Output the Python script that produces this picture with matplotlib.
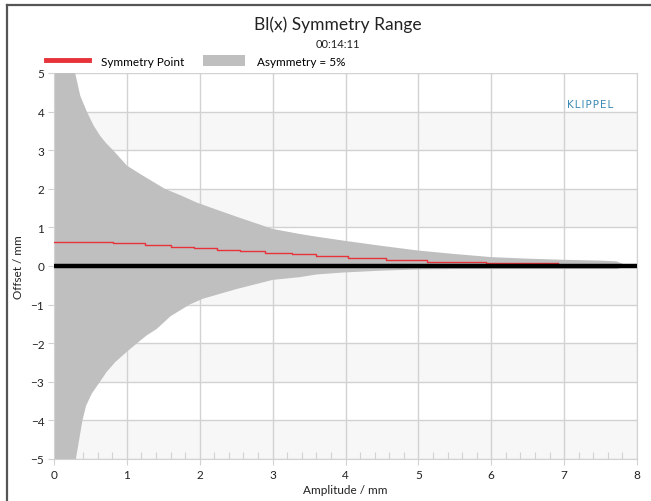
import numpy as np
import matplotlib
matplotlib.use("Agg")
import matplotlib.pyplot as plt
from matplotlib.lines import Line2D
from matplotlib.patches import Patch
from matplotlib.ticker import MultipleLocator

plt.rcParams['font.family'] = ['Lato', 'DejaVu Sans']

# asymmetry band (5%) boundaries, offset in mm over amplitude in mm
amp_up = [0.0, 0.15, 0.29, 0.36, 0.45, 0.54, 0.63, 0.72, 0.81, 1.0, 1.22,
          1.52, 1.75, 1.95, 2.14, 2.5, 3.0, 3.37, 3.6, 3.96, 4.5, 5.0, 5.5,
          6.0, 6.5, 7.0, 7.5, 7.72, 7.85]
upper = [9.0, 7.0, 5.0, 4.41, 4.0, 3.65, 3.38, 3.17, 3.0, 2.6, 2.34,
         2.0, 1.82, 1.65, 1.52, 1.28, 0.96, 0.83, 0.76, 0.66, 0.52, 0.40,
         0.31, 0.23, 0.19, 0.16, 0.14, 0.12, 0.02]
amp_lo = [0.0, 0.15, 0.30, 0.39, 0.44, 0.52, 0.63, 0.72, 0.84, 1.0, 1.14,
          1.27, 1.41, 1.6, 1.86, 2.04, 2.5, 3.0, 3.37, 3.6, 3.96, 4.5, 5.0,
          5.5, 6.0, 6.5, 7.0, 7.5, 7.72, 7.85]
lower = [-9.0, -7.0, -5.0, -4.0, -3.62, -3.3, -3.0, -2.75, -2.49, -2.22,
         -2.0, -1.8, -1.63, -1.3, -1.0, -0.85, -0.6, -0.36, -0.29, -0.22,
         -0.17, -0.12, -0.09, -0.08, -0.08, -0.08, -0.08, -0.08, -0.08,
         -0.02]

# symmetry point (steps)
sym_x = [0.0, 0.81, 1.25, 1.61, 1.92, 2.23, 2.55, 2.89, 3.26, 3.6, 4.03,
         4.55, 5.12, 5.93, 6.92]
sym_y = [0.63, 0.59, 0.54, 0.50, 0.46, 0.42, 0.38, 0.34, 0.30, 0.26, 0.21,
         0.16, 0.11, 0.07, 0.07]

xticks = [0, 1, 2, 3, 4, 5, 6, 7, 8]
yticks = [-5, -4, -3, -2, -1, 0, 1, 2, 3, 4, 5]
bands = [(-5, -4), (-3, -2), (-1, 0), (1, 2), (3, 4)]

grey = '#bebfbe'
red = '#e8323a'
gridc = '#d2d2d2'
textc = '#222222'

fig = plt.figure(figsize=(6.51, 5.02), dpi=100)
ax = fig.add_axes([0.083, 0.0837, 0.8955, 0.7689])

for lo, hi in bands:
    ax.axhspan(lo, hi, color='#f7f7f7', lw=0, zorder=0.2)

# both edges on one amplitude grid so fill_between can use them
xs = np.union1d(amp_up, amp_lo)
ax.fill_between(xs, np.interp(xs, amp_lo, lower), np.interp(xs, amp_up, upper),
                color=grey, lw=0, zorder=1)
ax.step(sym_x, sym_y, where='post', color=red, lw=1, zorder=3)
ax.axhline(0, color='black', lw=3.2, zorder=4)

ax.set_xlim(0, 8)
ax.set_ylim(-5, 5)
ax.set_xticks(xticks)
ax.set_yticks(yticks)
ax.xaxis.set_minor_locator(MultipleLocator(0.2))
ax.set_axisbelow(True)
ax.grid(True, which='major', color=gridc, lw=1)
ax.tick_params(which='major', length=4, color=gridc, labelsize=8.5,
               labelcolor=textc, pad=3)
ax.tick_params(axis='x', which='minor', direction='in', length=5,
               color=gridc, width=0.8)
for s in ax.spines.values():
    s.set_color(gridc)
ax.spines['top'].set_visible(False)

ax.set_xlabel('Amplitude / mm', fontsize=8.5, color=textc, labelpad=3)
ax.set_ylabel('Offset / mm', fontsize=8.5, color=textc, labelpad=5)

ax.text(0.96, 0.92, 'K L I P P E L'.replace(' ', '\u200a'),
        transform=ax.transAxes, ha='right', va='center', fontsize=7.5,
        color='#3d8ab5', family=['DejaVu Sans'])

fig.text(0.519, 0.951, 'Bl(x) Symmetry Range', ha='center', va='center',
         fontsize=12.5, color=textc)
fig.text(0.519, 0.912, '00:14:11', ha='center', va='center', fontsize=8,
         color=textc)

handles = [Line2D([], [], color=red, lw=3.5),
           Patch(facecolor=grey, edgecolor='none')]
fig.legend(handles, ['Symmetry Point', 'Asymmetry = 5%'], ncol=2,
           loc='center left', bbox_to_anchor=(0.055, 0.877), frameon=False,
           fontsize=8.5, handlelength=3.6, handleheight=1.1,
           columnspacing=1.6, handletextpad=1.0)

# outer frame
fig.add_artist(Line2D([0.010, 0.010], [0.0, 0.989], color='#555555', lw=1.6))
fig.add_artist(Line2D([0.010, 1.0], [0.989, 0.989], color='#555555', lw=1.6))

fig.savefig('out.png', dpi=100)
